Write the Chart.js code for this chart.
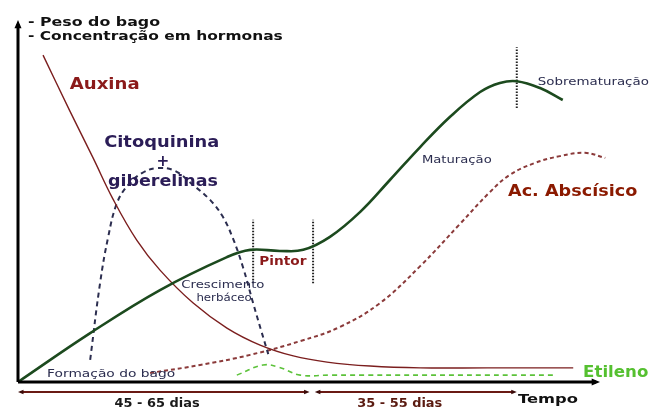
<!DOCTYPE html>
<html>
<head>
<meta charset="utf-8">
<script src="https://cdn.jsdelivr.net/npm/chart.js@4"></script>
<style>
  html, body { margin: 0; padding: 0; background: #fff; }
  #caixa { width: 649px; height: 408px; position: relative; }
</style>
</head>
<body>
<div id="caixa"><canvas id="graficoBago"></canvas></div>
<script>
// curvas (tempo 0-100, intensidade 0-100)
const pesoX = [0, 12.4, 24.4, 35.9, 39.9, 45.0, 49.0, 53.6, 58.8, 63.9, 69.1, 74.2, 79.4, 82.8, 85.7, 89.7, 93.6];
const pesoY = [0, 13.5, 25.4, 34.5, 36.5, 36.2, 36.5, 40.1, 47.0, 55.8, 64.9, 73.2, 80.1, 82.6, 83.1, 81.2, 77.9];

const auxinaX = [4.3, 8.9, 12.9, 16.3, 20.4, 24.4, 30.1, 35.9, 41.6, 47.3, 53.1, 60.5, 69.1, 80.6, 95.4];
const auxinaY = [90.3, 74.9, 61.9, 50.6, 39.2, 30.9, 21.8, 14.9, 10.2, 7.2, 5.5, 4.4, 3.9, 3.9, 3.9];

const citoX = [12.4, 14.1, 15.5, 17.0, 18.9, 21.3, 23.9, 27.0, 30.1, 33.0, 35.1, 36.9, 38.7, 40.4, 41.8, 43.0];
const citoY = [6.1, 27.3, 40.1, 49.4, 54.4, 57.7, 59.1, 58.3, 54.4, 50.3, 45.9, 39.8, 31.5, 21.8, 14.1, 7.7];

const abaX = [22.7, 31.3, 39.9, 48.5, 55.3, 62.2, 69.1, 75.9, 81.1, 84.5, 88.8, 93.1, 97.4, 100.9];
const abaY = [2.5, 4.7, 7.5, 11.3, 15.2, 21.8, 32.0, 43.6, 52.5, 57.2, 60.5, 62.4, 63.3, 61.9];

const etilenoX = [37.6, 42.1, 44.8, 48.5, 53.6, 91.9];
const etilenoY = [1.9, 4.7, 4.1, 1.9, 1.9, 1.9];

// marcas verticais (pintor e sobrematuração)
const marcasX = [40.4, 50.7, 85.7];
const marcasBase = [27.3, 27.3, 75.7];
const marcasTopo = [44.8, 44.8, 92.5];

// fases sob o eixo do tempo
const fasesInicio = [0, 51.0];
const fasesFim = [50.1, 85.7];
const fasesTexto = ['45 - 65 dias', '35 - 55 dias'];
const fasesCentro = [23.9, 65.6];
const fasesCor = ['#1a1a1a', '#5a1a10'];

// textos: posição e largura em unidades do gráfico
const textos = [
    { t: '- Peso do bago', x: 1.7, y: 99.4, w: 22.7, cor: '#111', fonte: 'bold 13px "DejaVu Sans"', al: 'left' },
    { t: '- Concentração em hormonas', x: 1.7, y: 95.3, w: 43.8, cor: '#111', fonte: 'bold 13px "DejaVu Sans"', al: 'left' },
    { t: 'Auxina', x: 8.9, y: 82.0, w: 12.0, cor: '#8b1a1a', fonte: 'bold 15px "DejaVu Sans"', al: 'left' },
    { t: 'Citoquinina', x: 24.7, y: 66.0, w: 19.8, cor: '#2b1d57', fonte: 'bold 15px "DejaVu Sans"', al: 'center' },
    { t: '+', x: 24.9, y: 60.8, w: 2.2, cor: '#2b1d57', fonte: 'bold 15px "DejaVu Sans"', al: 'center' },
    { t: 'giberelinas', x: 24.9, y: 55.2, w: 18.9, cor: '#2b1d57', fonte: 'bold 15px "DejaVu Sans"', al: 'center' },
    { t: 'Crescimento', x: 35.2, y: 26.8, w: 14.3, cor: '#2b2d4f', fonte: '11px "DejaVu Sans"', al: 'center' },
    { t: 'herbáceo', x: 35.4, y: 23.2, w: 9.5, cor: '#2b2d4f', fonte: '11px "DejaVu Sans"', al: 'center' },
    { t: 'Pintor', x: 45.5, y: 33.1, w: 8.1, cor: '#8b1a1a', fonte: 'bold 12px "DejaVu Sans"', al: 'center' },
    { t: 'Formação do bago', x: 5.0, y: 2.2, w: 22.0, cor: '#2b2d4f', fonte: '11px "DejaVu Sans"', al: 'left' },
    { t: 'Maturação', x: 69.4, y: 61.3, w: 12.0, cor: '#2b2d4f', fonte: '11px "DejaVu Sans"', al: 'left' },
    { t: 'Sobrematuração', x: 89.3, y: 82.9, w: 19.1, cor: '#2b2d4f', fonte: '11px "DejaVu Sans"', al: 'left' },
    { t: 'Ac. Abscísico', x: 84.2, y: 52.5, w: 22.2, cor: '#8b1a00', fonte: 'bold 16px "DejaVu Sans"', al: 'left' },
    { t: 'Etileno', x: 97.1, y: 2.5, w: 11.2, cor: '#55c030', fonte: 'bold 15px "DejaVu Sans"', al: 'left' },
    { t: 'Tempo', x: 85.9, y: -5.0, w: 10.3, cor: '#111', fonte: 'bold 13px "DejaVu Sans"', al: 'left' }
];

function pontos(xs, ys) {
    return xs.map((x, i) => ({ x: x, y: ys[i] }));
}

function serie(xs, ys, cor, largura, traco) {
    return {
        data: pontos(xs, ys),
        borderColor: cor,
        borderWidth: largura,
        borderDash: traco || [],
        pointRadius: 0,
        showLine: true,
        fill: false,
        tension: 0.4,
        clip: false
    };
}

const conjuntos = [
    serie(pesoX, pesoY, '#1c4a1e', 2.6),
    serie(auxinaX, auxinaY, '#7b1e1e', 1.4),
    serie(citoX, citoY, '#2b2d4f', 2, [5, 4]),
    serie(abaX, abaY, '#8b3a3a', 2, [4, 3]),
    serie(etilenoX, etilenoY, '#5cc23a', 1.6, [5, 4])
];
marcasX.forEach((x, i) => {
    const d = serie([x, x], [marcasBase[i], marcasTopo[i]], '#222', 2, [1.5, 1.5]);
    d.tension = 0;
    conjuntos.push(d);
});

function seta(ctx, x1, y1, x2, y2, tam) {
    const ang = Math.atan2(y2 - y1, x2 - x1);
    ctx.beginPath();
    ctx.moveTo(x2, y2);
    ctx.lineTo(x2 - tam * Math.cos(ang - 0.4), y2 - tam * Math.sin(ang - 0.4));
    ctx.lineTo(x2 - tam * Math.cos(ang + 0.4), y2 - tam * Math.sin(ang + 0.4));
    ctx.closePath();
    ctx.fill();
}

// escreve o texto esticado até a largura pedida
function escrever(ctx, t, px, py, largura, al) {
    const w0 = ctx.measureText(t).width;
    const k = largura / w0;
    ctx.save();
    ctx.translate(px, py);
    ctx.scale(k, 1);
    ctx.textAlign = al;
    ctx.textBaseline = 'middle';
    ctx.fillText(t, 0, 0);
    ctx.restore();
}

const desenhoExtra = {
    id: 'desenhoExtra',
    afterDatasetsDraw(chart) {
        const ctx = chart.ctx;
        const sx = chart.scales.x;
        const sy = chart.scales.y;
        const x0 = sx.getPixelForValue(0);
        const y0 = sy.getPixelForValue(0);
        const xf = sx.getPixelForValue(100);
        const yf = sy.getPixelForValue(100);
        const escala = sx.getPixelForValue(1) - x0;
        ctx.save();

        // eixos
        ctx.strokeStyle = '#000';
        ctx.fillStyle = '#000';
        ctx.lineWidth = 3;
        ctx.beginPath();
        ctx.moveTo(x0, y0);
        ctx.lineTo(x0, yf + 4);
        ctx.moveTo(x0, y0);
        ctx.lineTo(xf - 4, y0);
        ctx.stroke();
        seta(ctx, x0, y0, x0, yf, 9);
        seta(ctx, x0, y0, xf, y0, 9);

        // fases
        const yFase = y0 + 10;
        fasesInicio.forEach((ini, i) => {
            const a = sx.getPixelForValue(ini);
            const b = sx.getPixelForValue(fasesFim[i]);
            ctx.strokeStyle = '#6a1a14';
            ctx.fillStyle = '#3a0a08';
            ctx.lineWidth = 2;
            ctx.beginPath();
            ctx.moveTo(a + 3, yFase);
            ctx.lineTo(b - 3, yFase);
            ctx.stroke();
            seta(ctx, b, yFase, a, yFase, 6);
            seta(ctx, a, yFase, b, yFase, 6);
            ctx.fillStyle = fasesCor[i];
            ctx.font = 'bold 12px "DejaVu Sans"';
            escrever(ctx, fasesTexto[i], sx.getPixelForValue(fasesCentro[i]), yFase + 12, 14.6 * escala, 'center');
        });

        // textos
        textos.forEach(r => {
            ctx.font = r.fonte;
            ctx.fillStyle = r.cor;
            escrever(ctx, r.t, sx.getPixelForValue(r.x), sy.getPixelForValue(r.y), r.w * escala, r.al);
        });
        ctx.restore();
    }
};

new Chart(document.getElementById('graficoBago').getContext('2d'), {
    type: 'scatter',
    data: { datasets: conjuntos },
    options: {
        responsive: true,
        maintainAspectRatio: false,
        animation: false,
        layout: { padding: { left: 18, right: 49, top: 20, bottom: 26 } },
        plugins: { legend: { display: false }, tooltip: { enabled: false } },
        scales: {
            x: { type: 'linear', min: 0, max: 100, display: false },
            y: { type: 'linear', min: 0, max: 100, display: false }
        }
    },
    plugins: [desenhoExtra]
});
</script>
</body>
</html>
